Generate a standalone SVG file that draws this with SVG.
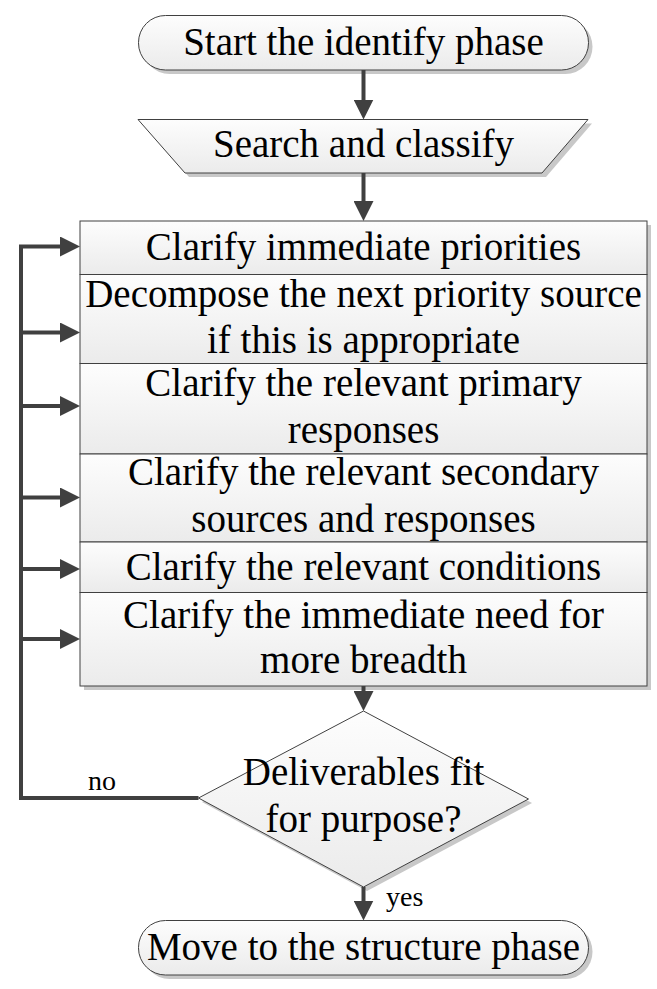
<svg xmlns="http://www.w3.org/2000/svg" width="657" height="989" viewBox="0 0 657 989" font-family="Liberation Serif, Times New Roman, serif">
<style>
.shape{stroke:#404040;stroke-width:1;fill:url(#g)}
.shadow{fill:#c8c8c8;stroke:none}
.t{font-size:39px;text-anchor:middle;fill:#000}
.lbl{font-size:28px;fill:#000}
.c{stroke:#404040;stroke-width:4;fill:none}
.a{marker-end:url(#ah)}
</style>
<defs>
<linearGradient id="g" x1="0" y1="0" x2="0" y2="1">
<stop offset="0" stop-color="#fdfdfd"/>
<stop offset="1" stop-color="#ebebeb"/>
</linearGradient>
<marker id="ah" markerUnits="userSpaceOnUse" markerWidth="20" markerHeight="20" refX="2" refY="10" orient="auto">
<path d="M0,0 L20,10 L0,20 z" fill="#404040"/>
</marker>
</defs>

<g id="start">
<rect class="shadow" x="142.5" y="19.5" width="450" height="54.5" rx="27"/>
<rect class="shape" x="138.5" y="15.5" width="450" height="54.5" rx="27"/>
<text class="t" x="363.5" y="55">Start the identify phase</text>
</g>

<g id="search">
<polygon class="shadow" points="142,123.5 592,123.5 546,177 189,177"/>
<polygon class="shape" points="138,119.5 588,119.5 542,173 185,173"/>
<text class="t" x="363.5" y="157">Search and classify</text>
</g>

<g id="steps">
<rect class="shadow" x="84" y="225" width="567" height="465"/>
<g id="step1">
<rect class="shape" x="80" y="221" width="567" height="53.5"/>
<text class="t" x="363.5" y="259.5">Clarify immediate priorities</text>
</g>
<g id="step2">
<rect class="shape" x="80" y="274.5" width="567" height="89"/>
<text class="t" x="363.5" y="307">Decompose the next priority source</text>
<text class="t" x="363.5" y="353">if this is appropriate</text>
</g>
<g id="step3">
<rect class="shape" x="80" y="363.5" width="567" height="90.5"/>
<text class="t" x="363.5" y="396">Clarify the relevant primary</text>
<text class="t" x="363.5" y="442.5">responses</text>
</g>
<g id="step4">
<rect class="shape" x="80" y="454" width="567" height="88"/>
<text class="t" x="363.5" y="485">Clarify the relevant secondary</text>
<text class="t" x="363.5" y="531.5">sources and responses</text>
</g>
<g id="step5">
<rect class="shape" x="80" y="542" width="567" height="50.5"/>
<text class="t" x="363.5" y="580">Clarify the relevant conditions</text>
</g>
<g id="step6">
<rect class="shape" x="80" y="592.5" width="567" height="93.5"/>
<text class="t" x="363.5" y="627.5">Clarify the immediate need for</text>
<text class="t" x="363.5" y="673">more breadth</text>
</g>
</g>

<g id="decision">
<polygon class="shadow" points="367,715 532,803 367,891 202,802"/>
<polygon class="shape" points="363.5,711 528.5,799 363.5,887 198.5,798"/>
<text class="t" x="363.5" y="785">Deliverables fit</text>
<text class="t" x="363.5" y="832">for purpose?</text>
</g>

<g id="end">
<rect class="shadow" x="142.5" y="924.5" width="450" height="54.5" rx="27"/>
<rect class="shape" x="138.5" y="920.5" width="450" height="54.5" rx="27"/>
<text class="t" x="363.5" y="960">Move to the structure phase</text>
</g>

<g id="connectors">
<line class="c a" x1="363.5" y1="70" x2="363.5" y2="101.5"/>
<line class="c a" x1="363.5" y1="173" x2="363.5" y2="203"/>
<line class="c a" x1="363.5" y1="686" x2="363.5" y2="693"/>
<line class="c a" x1="363.5" y1="887" x2="363.5" y2="902.5"/>
<polyline class="c a" points="198.5,798 21,798 21,246.5 62,246.5"/>
<line class="c a" x1="21" y1="332.5" x2="62" y2="332.5"/>
<line class="c a" x1="21" y1="406" x2="62" y2="406"/>
<line class="c a" x1="21" y1="497.5" x2="62" y2="497.5"/>
<line class="c a" x1="21" y1="569" x2="62" y2="569"/>
<line class="c a" x1="21" y1="639" x2="62" y2="639"/>
<text class="lbl" x="88" y="790">no</text>
<text class="lbl" x="386" y="906">yes</text>
</g>
</svg>
